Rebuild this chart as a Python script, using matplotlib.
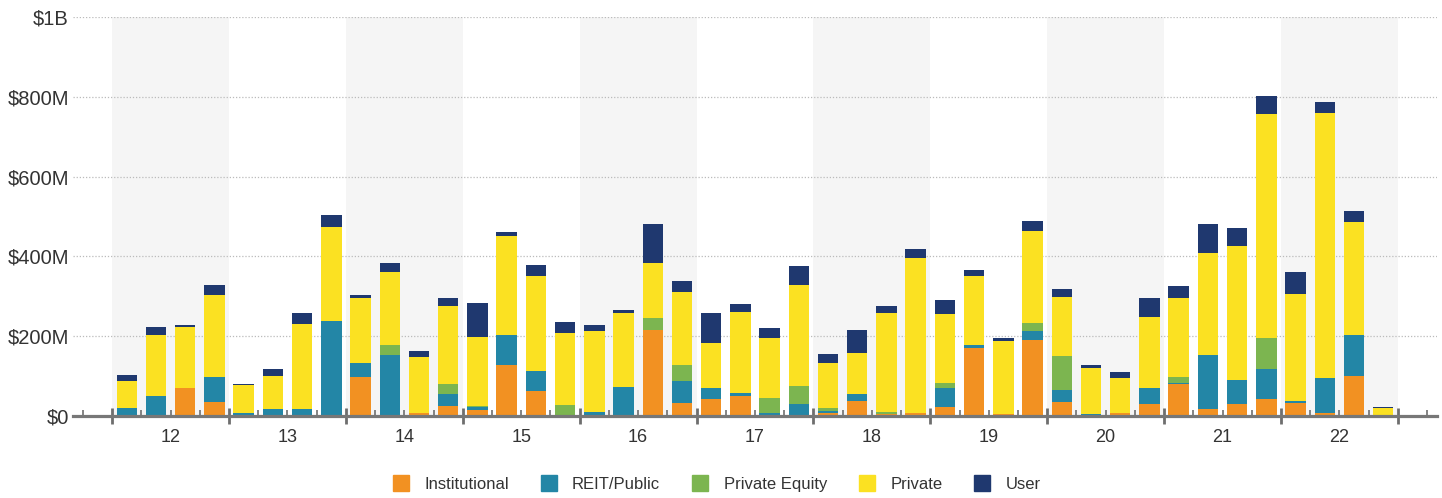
import numpy as np
import matplotlib
matplotlib.use("Agg")
import matplotlib.pyplot as plt
from matplotlib.lines import Line2D

plt.rcParams['font.family'] = ['Liberation Sans', 'DejaVu Sans']

years = ['12', '13', '14', '15', '16', '17', '18', '19', '20', '21', '22']
series = ['Institutional', 'REIT/Public', 'Private Equity', 'Private', 'User']
colors = ['#F29122', '#2386A6', '#7CB550', '#FBE122', '#1F386F']

# $M per quarter, 2012 Q1 .. 2022 Q4
institutional = [0, 0, 70, 34,   3, 0, 0, 0,   98, 0, 8, 24,   14, 128, 62, 0,
                 0, 0, 215, 33,  43, 51, 3, 0,  7, 38, 5, 8,   22, 170, 4, 190,
                 35, 0, 7, 31,   80, 18, 30, 43,  33, 7, 99, 0]
reit = [20, 51, 0, 64,   4, 18, 18, 238,   34, 153, 0, 30,   8, 74, 52, 0,
        11, 73, 0, 55,   27, 7, 4, 31,   5, 16, 0, 0,   47, 9, 0, 23,
        30, 4, 0, 39,   3, 136, 60, 74,   5, 87, 104, 0]
private_equity = [0, 0, 0, 0,   0, 0, 0, 0,   0, 25, 0, 25,   2, 0, 0, 28,
                  0, 0, 31, 40,   0, 0, 39, 43,   7, 0, 6, 0,   14, 0, 0, 21,
                  85, 0, 0, 0,   14, 0, 0, 78,   0, 0, 0, 0]
private = [68, 152, 154, 205,   70, 82, 213, 236,   163, 184, 141, 196,   175, 250, 237, 180,
           201, 185, 137, 182,   114, 202, 149, 255,   115, 104, 248, 388,   172, 172, 185, 230,
           149, 116, 89, 177,   199, 254, 337, 561,   267, 665, 284, 21]
user = [14, 19, 3, 25,   3, 19, 27, 30,   8, 22, 15, 21,   83, 10, 28, 28,
        15, 8, 98, 28,   73, 21, 26, 47,   21, 57, 16, 22,   35, 16, 6, 24,
        19, 9, 14, 49,   31, 73, 44, 46,   56, 28, 28, 1]

data = [institutional, reit, private_equity, private, user]

fig = plt.figure(figsize=(14.42, 4.98), dpi=100)
ax = fig.add_axes([73 / 1442, 82 / 498, 1364 / 1442, 399 / 498])

n = len(institutional)
x = np.arange(n) + 0.5

# alternating year shading
for i in range(0, len(years), 2):
    ax.axvspan(i * 4, i * 4 + 4, color='#F5F5F5', lw=0, zorder=0)

bottom = np.zeros(n)
for vals, col in zip(data, colors):
    vals = np.array(vals, dtype=float)
    ax.bar(x, vals, width=0.7, bottom=bottom, color=col, lw=0, zorder=3)
    bottom += vals

ax.set_xlim(-1.34, n + 1.34)
ax.set_ylim(0, 1000)

yt = [0, 200, 400, 600, 800, 1000]
ax.set_yticks(yt)
ax.set_yticklabels(['$0', '$200M', '$400M', '$600M', '$800M', '$1B'])
ax.tick_params(axis='y', length=0, pad=3, labelsize=14.5, labelcolor='#333333')
for v in yt[1:]:
    ax.axhline(v, color='#BBBBBB', lw=0.9, ls=(0, (1, 1.5)), zorder=1)

ax.set_xticks(np.arange(0, n + 1, 4))
ax.set_xticklabels([])
minor = [q for q in range(-1, n + 2) if q % 4 != 0]
ax.set_xticks(minor, minor=True)
ax.tick_params(axis='x', which='major', direction='inout', length=12,
               width=2, color='#6E6E6E')
ax.tick_params(axis='x', which='minor', direction='in', length=4.5,
               width=1.2, color='#6E6E6E')

for i, yr in enumerate(years):
    ax.text(i * 4 + 2, -0.055, yr, transform=ax.get_xaxis_transform(),
            ha='center', va='center', fontsize=13, color='#333333')

for s in ['top', 'right', 'left']:
    ax.spines[s].set_visible(False)
ax.spines['bottom'].set_color('#777777')
ax.spines['bottom'].set_linewidth(2.3)
ax.spines['bottom'].set_zorder(5)

handles = [Line2D([], [], marker='s', ls='', markersize=11, color=c) for c in colors]
fig.legend(handles, series, loc='center', bbox_to_anchor=(0.497, 0.028),
           ncol=5, frameon=False, fontsize=12, handlelength=1.0,
           handletextpad=0.9, columnspacing=1.9, labelcolor='#333333')

fig.savefig('out.png', dpi=100)
